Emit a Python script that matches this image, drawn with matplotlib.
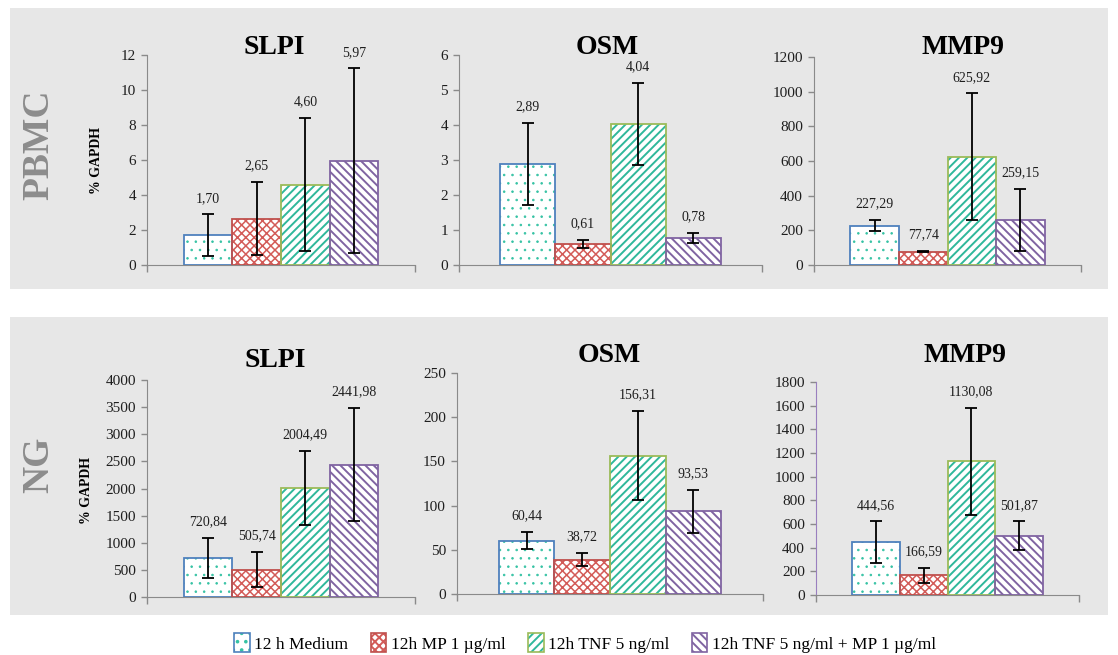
import matplotlib
matplotlib.use("Agg")
import matplotlib.pyplot as plt
from matplotlib.patches import Rectangle, Patch
from matplotlib.legend_handler import HandlerTuple

# data
groups = ["12 h Medium", "12h MP 1 µg/ml", "12h TNF 5 ng/ml", "12h TNF 5 ng/ml + MP 1 µg/ml"]

pbmc_slpi = [1.70, 2.65, 4.60, 5.97]
pbmc_slpi_err = [1.20, 2.10, 3.80, 5.27]
pbmc_osm = [2.89, 0.61, 4.04, 0.78]
pbmc_osm_err = [1.17, 0.11, 1.17, 0.14]
pbmc_mmp9 = [227.29, 77.74, 625.92, 259.15]
pbmc_mmp9_err = [33, 5, 364, 180]

ng_slpi = [720.84, 505.74, 2004.49, 2441.98]
ng_slpi_err = [362, 320, 685, 1035]
ng_osm = [60.44, 38.72, 156.31, 93.53]
ng_osm_err = [9.5, 7.5, 50.5, 24.5]
ng_mmp9 = [444.56, 166.59, 1130.08, 501.87]
ng_mmp9_err = [178, 62, 450, 120]

W, H = 1118, 655
plt.rcParams["font.family"] = "Liberation Serif"

face = ["white", "white", "white", "white"]
hatch_col = ["#35c2a4", "#d35b58", "#2fb89b", "#8064a2"]
edge_col = ["#4f81bd", "#c0504d", "#9bbb59", "#8064a2"]
hatches = ["..", "xxxx", "////", "\\\\\\\\"]
hatch_lw = [0.6, 1.1, 1.4, 1.4]
spine_col = "#8a8a8a"
text_col = "#1e1e1e"

fig = plt.figure(figsize=(W / 100, H / 100), dpi=100)

# grey panels
for (y0, y1) in [(8, 289), (317, 615)]:
    fig.add_artist(Rectangle((10 / W, (H - y1) / H), 1098 / W, (y1 - y0) / H,
                             transform=fig.transFigure, facecolor="#e7e7e7",
                             edgecolor="none", zorder=-10))


def hatched_bar(ax, x, v, i):
    plt.rcParams["hatch.linewidth"] = hatch_lw[i]
    b = ax.bar(x, v, width=1.0, color=face[i], edgecolor=hatch_col[i],
               hatch=hatches[i], linewidth=0, zorder=2)
    ax.bar(x, v, width=1.0, fill=False, edgecolor=edge_col[i], linewidth=1.3, zorder=3)
    return b


def panel(x0, x1, yzero, ytop, vals, errs, ymax, step, title, tx, ty, ycol=spine_col):
    ax = fig.add_axes([x0 / W, (H - yzero) / H, (x1 - x0) / W, (yzero - ytop) / H])
    ax.patch.set_alpha(0)
    xs = list(range(len(vals)))
    for i, v in enumerate(vals):
        hatched_bar(ax, xs[i], v, i)
    ax.errorbar(xs, vals, yerr=errs, fmt="none", ecolor="black", elinewidth=1.3,
                capsize=4, capthick=1.3, zorder=4)
    for i, v in enumerate(vals):
        ax.text(xs[i], v + errs[i] + 0.045 * ymax, f"{v:.2f}".replace(".", ","),
                ha="center", va="bottom", fontsize=10, color=text_col)
    # bars take 4 of 5.5 category widths, centred on the axis
    gap = 0.75
    ax.set_xlim(-0.5 - gap, len(vals) - 0.5 + gap)
    ax.set_ylim(0, ymax)
    ax.set_yticks([step * k for k in range(int(round(ymax / step)) + 1)])
    ax.set_xticks([-0.5 - gap, len(vals) - 0.5 + gap])
    ax.set_xticklabels([])
    for s in ["top", "right"]:
        ax.spines[s].set_visible(False)
    ax.spines["bottom"].set_color(spine_col)
    ax.spines["left"].set_color(ycol)
    ax.tick_params(axis="y", colors=spine_col, labelcolor=text_col, labelsize=11,
                   length=4, width=1, pad=4)
    ax.tick_params(axis="x", colors=spine_col, length=5, width=1)
    fig.text(tx / W, (H - ty) / H, title, ha="center", va="baseline",
             fontsize=20, fontweight="bold", color="black")
    return ax


# top row (PBMC)
panel(147, 415, 265, 55, pbmc_slpi, pbmc_slpi_err, 12, 2, "SLPI", 274, 54)
panel(459, 762, 265, 55, pbmc_osm, pbmc_osm_err, 6, 1, "OSM", 607, 54)
panel(814, 1081, 265, 57, pbmc_mmp9, pbmc_mmp9_err, 1200, 200, "MMP9", 963, 54)

# bottom row (NG)
panel(147, 415, 597, 380, ng_slpi, ng_slpi_err, 4000, 500, "SLPI", 275, 367)
panel(457, 763, 594, 373, ng_osm, ng_osm_err, 250, 50, "OSM", 609, 362)
panel(816, 1079, 595, 382, ng_mmp9, ng_mmp9_err, 1800, 200, "MMP9", 965, 362,
      ycol="#9a7fbf")

# row labels
fig.text(39 / W, (H - 145) / H, "PBMC", rotation=90, ha="center", va="center",
         fontsize=27, fontweight="bold", color="#8c8c8c")
fig.text(39 / W, (H - 465) / H, "NG", rotation=90, ha="center", va="center",
         fontsize=27, fontweight="bold", color="#8c8c8c")
fig.text(97 / W, (H - 161) / H, "% GAPDH", rotation=90, ha="center", va="center",
         fontsize=10, fontweight="bold", color="black")
fig.text(87 / W, (H - 490) / H, "% GAPDH", rotation=90, ha="center", va="center",
         fontsize=10, fontweight="bold", color="black")

# legend
handles = []
for i in range(4):
    plt.rcParams["hatch.linewidth"] = hatch_lw[i]
    hp = Patch(facecolor=face[i], edgecolor=hatch_col[i], hatch=hatches[i], linewidth=0)
    ep = Patch(fill=False, edgecolor=edge_col[i], linewidth=1.2)
    handles.append((hp, ep))
fig.legend(handles, groups, loc="center", bbox_to_anchor=(585 / W, (H - 643) / H),
           ncol=4, frameon=False, fontsize=12.5, handlelength=0.9, handleheight=1.3,
           handletextpad=0.25, columnspacing=1.3,
           handler_map={tuple: HandlerTuple(ndivide=1)})

fig.savefig("out.png", dpi=100)
